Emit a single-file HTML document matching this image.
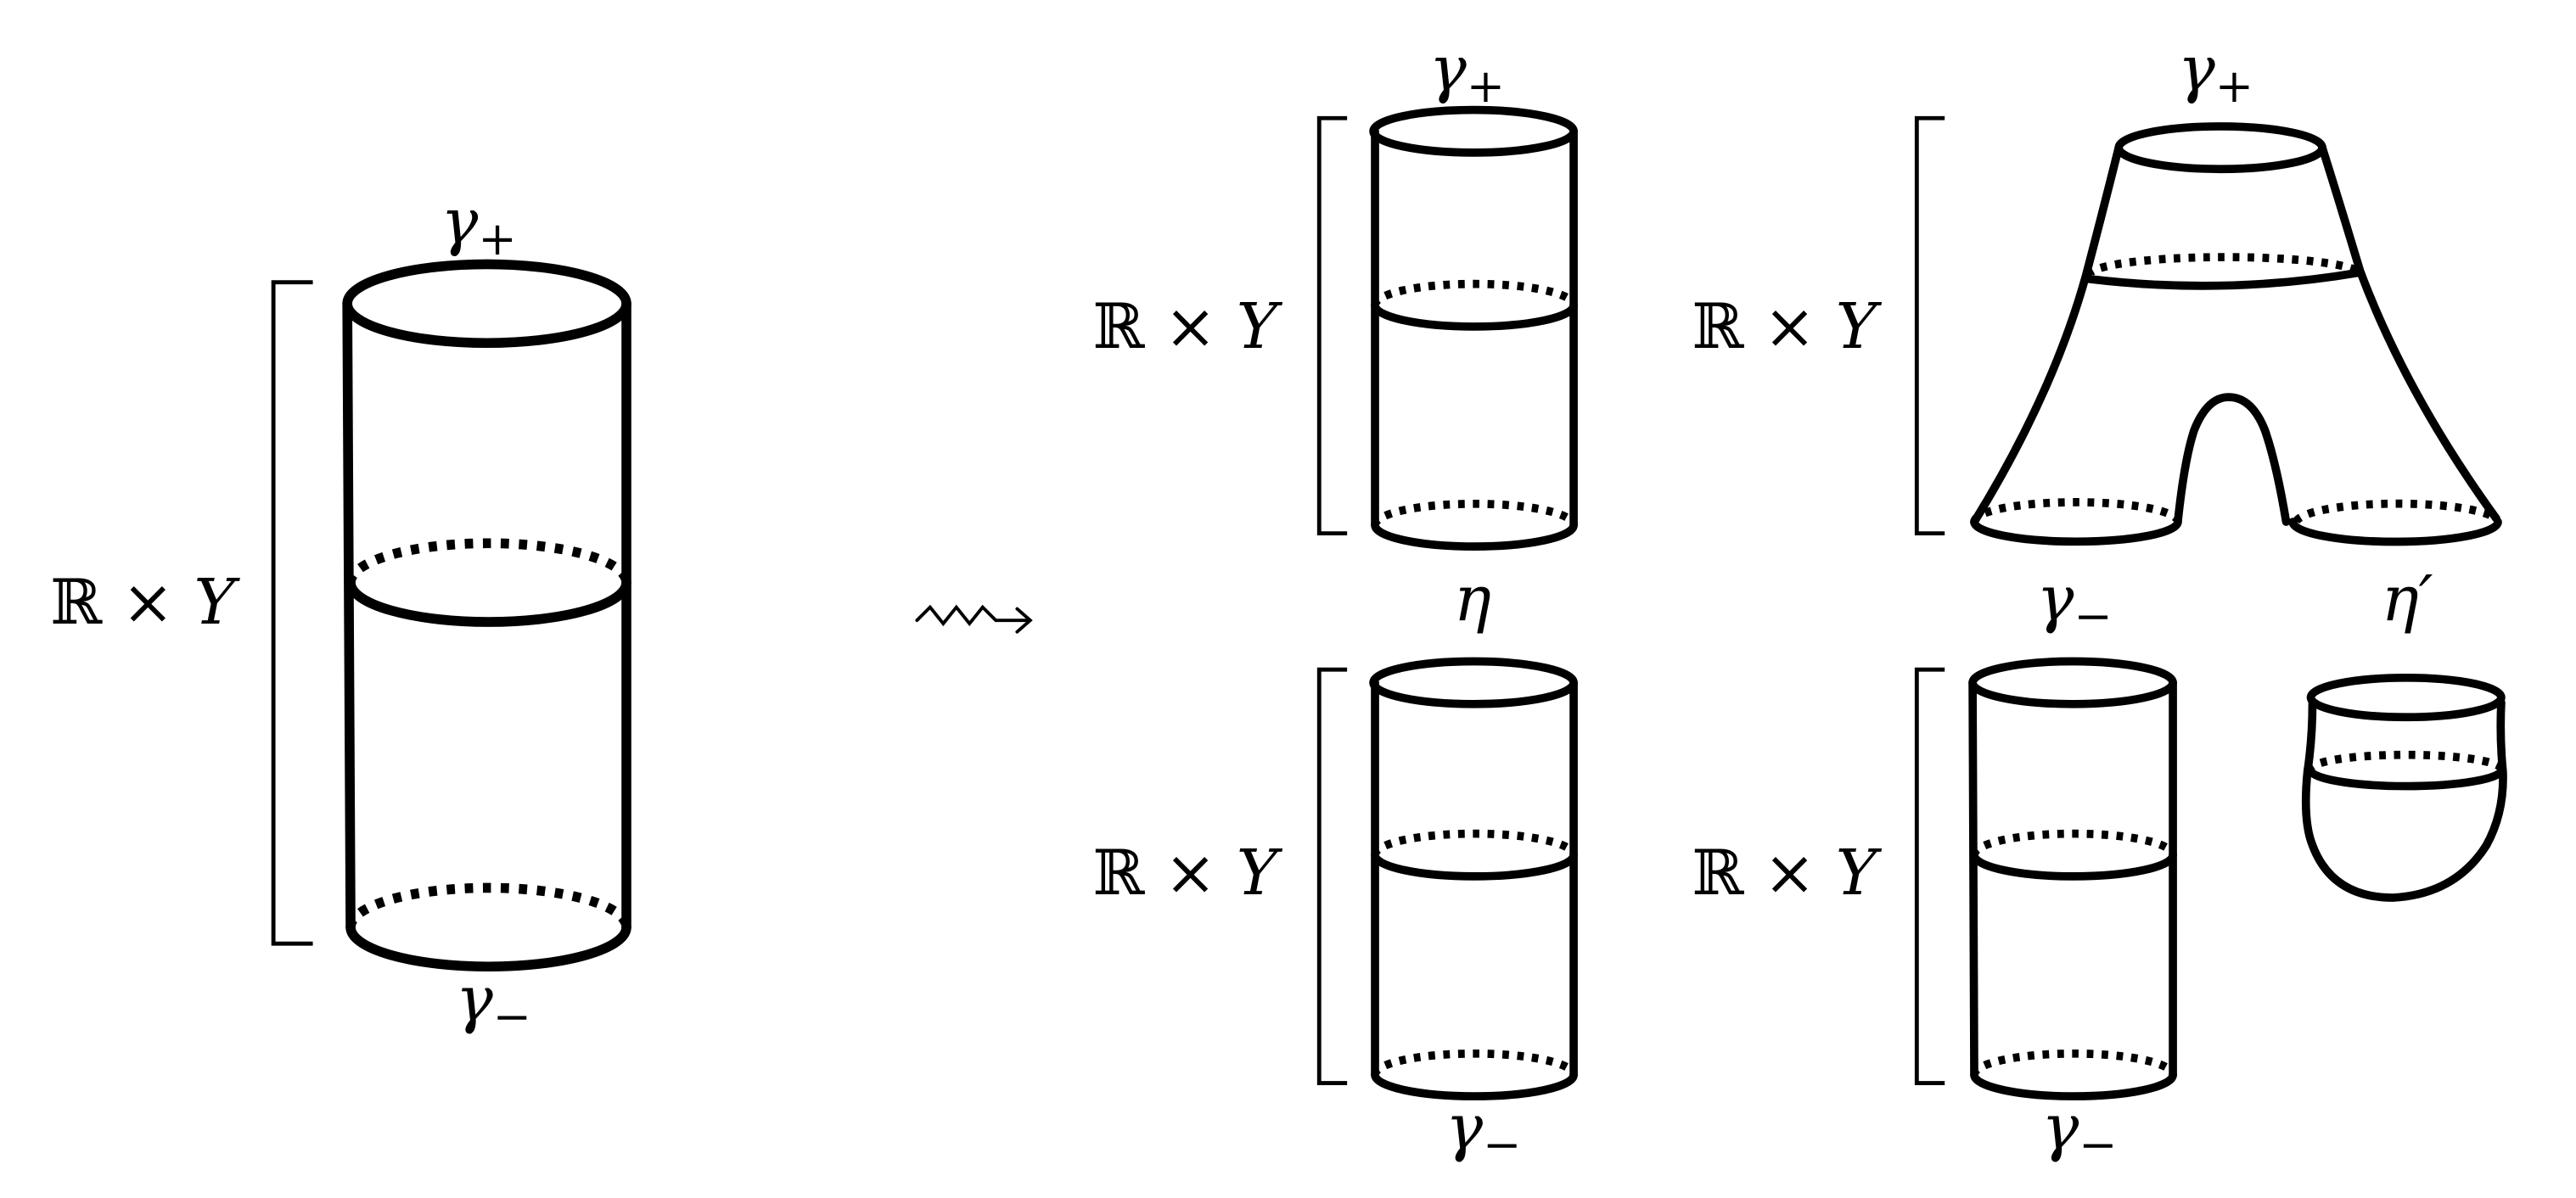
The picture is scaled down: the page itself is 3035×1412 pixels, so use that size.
<!DOCTYPE html>
<html><head><meta charset="utf-8"><style>
html,body{margin:0;padding:0;background:#fff;}
svg{display:block;}
text{font-family:"DejaVu Serif","Liberation Serif",serif;fill:#000;}
.i{font-style:italic;}
</style></head><body>
<svg width="3035" height="1412" viewBox="0 0 1568 730" xmlns="http://www.w3.org/2000/svg">
<g fill="none" stroke="#000" stroke-linecap="round">
<!-- Left big cylinder -->
<ellipse cx="296" cy="185" rx="85" ry="24" stroke-width="6"/>
<line x1="211" y1="185" x2="213" y2="565" stroke-width="6"/>
<line x1="381" y1="185" x2="381" y2="565" stroke-width="6"/>
<path d="M213 355 A84 24 0 0 1 381 355" stroke-width="6" stroke-dasharray="5 6" stroke-linecap="butt"/>
<path d="M213 355 A84 24 0 0 0 381 355" stroke-width="6"/>
<path d="M213 565 A84 24 0 0 1 381 565" stroke-width="6" stroke-dasharray="5 6" stroke-linecap="butt"/>
<path d="M213 565 A84 24 0 0 0 381 565" stroke-width="6"/>
<path d="M190 172 H166 V575 H190" stroke-width="2.5" stroke-linecap="butt"/>

<!-- Middle top cylinder -->
<g stroke-width="5">
<ellipse cx="897" cy="80" rx="61" ry="13"/>
<line x1="837" y1="80" x2="837" y2="320"/>
<line x1="958" y1="80" x2="958" y2="320"/>
<path d="M837 186 A60.5 13 0 0 1 958 186" stroke-dasharray="4 5" stroke-linecap="butt"/>
<path d="M837 186 A60.5 13 0 0 0 958 186"/>
<path d="M837 320 A60.5 13 0 0 1 958 320" stroke-dasharray="4 5" stroke-linecap="butt"/>
<path d="M837 320 A60.5 13 0 0 0 958 320"/>
</g>
<path d="M820 72 H803 V325 H820" stroke-width="2.5" stroke-linecap="butt"/>

<!-- Middle bottom cylinder -->
<g stroke-width="5">
<ellipse cx="897" cy="416" rx="61" ry="13"/>
<line x1="837" y1="416" x2="837" y2="655"/>
<line x1="958" y1="416" x2="958" y2="655"/>
<path d="M837 521 A60.5 13 0 0 1 958 521" stroke-dasharray="4 5" stroke-linecap="butt"/>
<path d="M837 521 A60.5 13 0 0 0 958 521"/>
<path d="M837 655 A60.5 13 0 0 1 958 655" stroke-dasharray="4 5" stroke-linecap="butt"/>
<path d="M837 655 A60.5 13 0 0 0 958 655"/>
</g>
<path d="M820 408 H803 V660 H820" stroke-width="2.5" stroke-linecap="butt"/>

<!-- Right bottom cylinder -->
<g stroke-width="5">
<ellipse cx="1262" cy="416" rx="61" ry="13"/>
<line x1="1201" y1="416" x2="1202" y2="655"/>
<line x1="1323" y1="416" x2="1323" y2="655"/>
<path d="M1202 521 A60.5 13 0 0 1 1323 521" stroke-dasharray="4 5" stroke-linecap="butt"/>
<path d="M1202 521 A60.5 13 0 0 0 1323 521"/>
<path d="M1202 655 A60.5 13 0 0 1 1323 655" stroke-dasharray="4 5" stroke-linecap="butt"/>
<path d="M1202 655 A60.5 13 0 0 0 1323 655"/>
</g>
<path d="M1184 408 H1167 V660 H1184" stroke-width="2.5" stroke-linecap="butt"/>

<!-- Pants -->
<g stroke-width="5">
<ellipse cx="1352" cy="90" rx="62" ry="13"/>
<path d="M1290 90 Q1280 130 1270 168 Q1250 240 1202 318"/>
<path d="M1414 90 Q1425 125 1437 165 Q1465 240 1520 316"/>
<path d="M1272 168 A83 11 0 0 1 1437 166" stroke-dasharray="4 5" stroke-linecap="butt"/>
<path d="M1272 170 Q1355 180 1437 166"/>
<path d="M1202 318 A62 12 0 0 1 1326 318" stroke-dasharray="4 5" stroke-linecap="butt"/>
<path d="M1202 318 A62 12 0 0 0 1326 318"/>
<path d="M1326 318 Q1330 280 1336 262 Q1344 242 1357 242 Q1371 242 1379 262 Q1386 282 1392 318"/>
<path d="M1398 318 A62 12 0 0 1 1520 316" stroke-dasharray="4 5" stroke-linecap="butt"/>
<path d="M1396 318 A62 12 0 0 0 1521 318"/>
</g>
<path d="M1184 72 H1167 V325 H1184" stroke-width="2.5" stroke-linecap="butt"/>

<!-- cap -->
<g stroke-width="5">
<ellipse cx="1465" cy="425" rx="58" ry="12"/>
<path d="M1408 428 Q1408 450 1405 470 Q1402 500 1408 515 Q1420 547 1457 547 Q1495 545 1514 515 Q1525 495 1524 470 Q1522 450 1523 428"/>
<path d="M1407 470 A58 9 0 0 1 1523 468" stroke-dasharray="4 5" stroke-linecap="butt"/>
<path d="M1407 470 A58 10 0 0 0 1523 468"/>
</g>

<!-- arrow -->
<path d="M558 378 L566 370 L574 380 L582 370 L590 380 L598 370 L606 378 L626 378" stroke-width="2"/>
<path d="M619 371 L627 378 L619 385" stroke-width="2"/>
</g>

<g font-size="38">
<text x="268" y="148" class="i">γ<tspan font-size="28" font-style="normal" dy="7">+</tspan></text>
<text x="277" y="622" class="i">γ<tspan font-size="28" font-style="normal" dy="7">−</tspan></text>
<text x="30" y="380">ℝ × <tspan class="i">Y</tspan></text>

<text x="870" y="55" class="i">γ<tspan font-size="28" font-style="normal" dy="7">+</tspan></text>
<text x="665" y="212">ℝ × <tspan class="i">Y</tspan></text>
<text x="885" y="378" class="i">η</text>
<text x="665" y="545">ℝ × <tspan class="i">Y</tspan></text>
<text x="880" y="700" class="i">γ<tspan font-size="28" font-style="normal" dy="7">−</tspan></text>

<text x="1326" y="55" class="i">γ<tspan font-size="28" font-style="normal" dy="7">+</tspan></text>
<text x="1030" y="212">ℝ × <tspan class="i">Y</tspan></text>
<text x="1240" y="378" class="i">γ<tspan font-size="28" font-style="normal" dy="7">−</tspan></text>
<text x="1450" y="378" class="i">η′</text>
<text x="1030" y="545">ℝ × <tspan class="i">Y</tspan></text>
<text x="1243" y="700" class="i">γ<tspan font-size="28" font-style="normal" dy="7">−</tspan></text>
</g>
</svg>
</body></html>
